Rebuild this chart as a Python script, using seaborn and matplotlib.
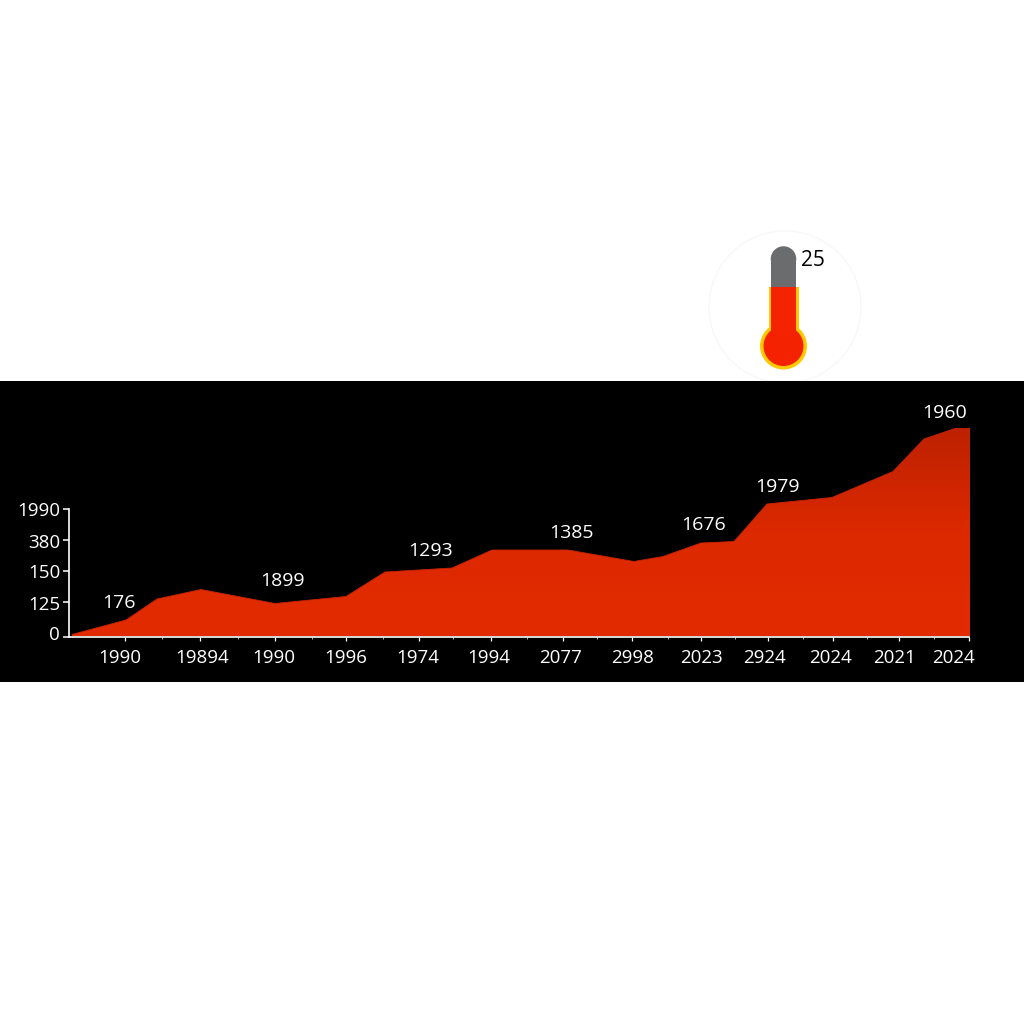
import numpy as np
import pandas as pd
import matplotlib
matplotlib.use("Agg")
import matplotlib.pyplot as plt
import seaborn as sns
from matplotlib.colors import LinearSegmentedColormap
from matplotlib.patches import Circle, Polygon, Rectangle
from matplotlib.transforms import ScaledTranslation

# area outline
x_vals = [3, 57, 88, 132, 206, 277, 316, 383, 423, 499, 565, 594, 632, 665, 698, 763, 824, 855, 886, 901]
y_vals = [2, 16.5, 37.5, 47, 33, 40, 64.5, 68.5, 86.5, 86.5, 75, 80, 93.5, 95, 132.5, 139, 165, 197.5, 208, 208]

# y axis
y_ticks = [0, 35, 66, 97, 127.5]
y_labels = ["0", "125", "150", "380", "1990"]
y_shift = [3.7, -1.5, -1, -2, 0]

# x axis
x_ticks = [56, 131, 206, 277, 349.5, 421.5, 493.5, 562.5, 632, 698.5, 763.5, 830, 899.5]
x_minor = [93, 169, 242.5, 314, 384, 458, 528, 599, 666, 733.5, 797.5, 865]
x_labels = ["1990", "19894", "1990", "1996", "1974", "1994", "2077", "2998", "2023", "2924", "2024", "2021", "2024"]
x_shift = [-5, 2, -1, 0, -1, -2, -2, 1, 0, -3, -2, -5, -15]

# labels floating over the area
note_x = [50, 213, 362, 502, 635, 708, 876]
note_y = [33, 56, 85, 104, 111, 149, 223]
note_text = ["176", "1899", "1293", "1385", "1676", "1979", "1960"]

sns.set_theme(style="white")
plt.rcParams["font.family"] = ["Open Sans", "DejaVu Sans"]

fig = plt.figure(figsize=(10.24, 10.24), dpi=100, facecolor="white")

# black band with the chart in it
ax = fig.add_axes([0, 1 - 682 / 1024, 1, 301 / 1024], facecolor="black")
df = pd.DataFrame({"x": x_vals, "y": y_vals})

# gradient fill clipped to the area shape
cmap = LinearSegmentedColormap.from_list("area", ["#e32b00", "#dc2900", "#bd2100"])
grad = np.linspace(0, 1, 256).reshape(-1, 1)
img = ax.imshow(grad, cmap=cmap, origin="lower", aspect="auto",
                extent=(min(x_vals), max(x_vals), 0, max(y_vals)), zorder=1)
shape = Polygon(list(zip(x_vals, y_vals)) + [(max(x_vals), 0), (min(x_vals), 0)],
                closed=True, transform=ax.transData, facecolor="none", edgecolor="none")
ax.add_patch(shape)
img.set_clip_path(shape)
sns.lineplot(data=df, x="x", y="y", color="#c92300", linewidth=0.6, ax=ax, zorder=2)

ax.set_xlim(-69, 955)
ax.set_ylim(-45.5, 255.5)
ax.set_xlabel("")
ax.set_ylabel("")

for name in ["top", "right"]:
    ax.spines[name].set_visible(False)
ax.spines["left"].set_position(("data", 0))
ax.spines["bottom"].set_position(("data", 0))
ax.spines["left"].set_bounds(0, y_ticks[-1])
ax.spines["bottom"].set_bounds(0, x_ticks[-1])
for name in ["left", "bottom"]:
    ax.spines[name].set_color("white")
    ax.spines[name].set_linewidth(1.2)
    ax.spines[name].set_zorder(3)

ax.set_yticks(y_ticks, y_labels)
ax.set_xticks(x_ticks, x_labels)
ax.set_xticks(x_minor, minor=True)
ax.tick_params(axis="y", colors="white", labelsize=13.5, length=4.3, width=1.1, pad=2, left=True)
ax.tick_params(axis="x", colors="white", labelsize=13.5, length=3, width=0.9, pad=6, bottom=True)
ax.tick_params(axis="x", which="minor", colors="#b0b0b0", length=1.5, width=0.7, bottom=True)

for lab, dx in zip(ax.get_xticklabels(), x_shift):
    lab.set_transform(lab.get_transform() + ScaledTranslation(dx / 100, 0, fig.dpi_scale_trans))
for lab, dy in zip(ax.get_yticklabels(), y_shift):
    lab.set_transform(lab.get_transform() + ScaledTranslation(0, dy / 100, fig.dpi_scale_trans))

for nx, ny, txt in zip(note_x, note_y, note_text):
    ax.text(nx, ny, txt, color="white", fontsize=14, ha="center", va="center", zorder=4)

# thermometer on the white part, drawn in pixel units
top = fig.add_axes([0, 0, 1, 1], facecolor="none")
top.set_xlim(0, 1024)
top.set_ylim(1024, 0)
top.axis("off")
top.set_zorder(-1)
ax.set_zorder(0)

over = fig.add_axes([0, 0, 1, 1], facecolor="none")
over.set_xlim(0, 1024)
over.set_ylim(1024, 0)
over.axis("off")
over.set_zorder(1)

top.add_patch(Circle((785, 307), 76, facecolor="white", edgecolor="#f8f8f8", linewidth=1))

over.add_patch(Circle((783.5, 259), 12.75, facecolor="#6b6c6e", edgecolor="none"))
over.add_patch(Rectangle((770.75, 259), 25.5, 30, facecolor="#6b6c6e", edgecolor="none"))
over.add_patch(Circle((783.5, 346), 23.5, facecolor="#ffc800", edgecolor="none"))
over.add_patch(Rectangle((768.5, 287), 30, 50, facecolor="#ffc800", edgecolor="none"))
over.add_patch(Circle((783.5, 346), 20, facecolor="#f52200", edgecolor="none"))
over.add_patch(Rectangle((771, 287), 25, 50, facecolor="#f52200", edgecolor="none"))
over.text(813, 261, "25", color="black", fontsize=15, ha="center", va="center")

fig.savefig("out.png", dpi=100, facecolor="white")
